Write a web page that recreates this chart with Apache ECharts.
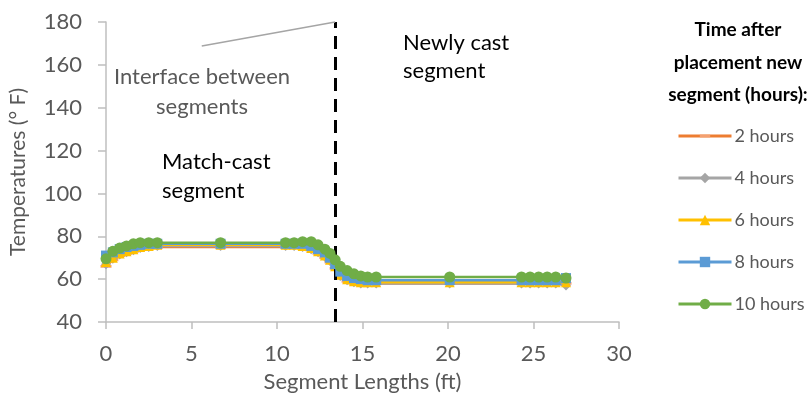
<!DOCTYPE html>
<html><head><meta charset="utf-8">
<script src="https://cdn.jsdelivr.net/npm/echarts@6/dist/echarts.min.js"></script>
<style>html,body{margin:0;padding:0;background:#fff}#c{width:809px;height:410px}</style>
</head><body><div id="c"></div>
<script>
// Segment positions (ft)
const positions = [0, 0.4, 0.8, 1.2, 1.6, 2.0, 2.5, 3.0, 6.7, 10.5, 11.0, 11.5, 12.0, 12.4, 12.8, 13.1, 13.4, 13.7, 14.1, 14.5, 14.9, 15.3, 15.8, 20.1, 24.3, 24.8, 25.3, 25.8, 26.3, 26.9];
const hours2  = [66, 69, 71, 72, 73, 74, 74.5, 75, 75, 75, 75, 74.5, 73.5, 72, 70, 68, 65, 61, 59, 58, 58, 58, 58, 58, 58, 58, 58, 58, 58, 58];
const hours4  = [67, 69.5, 71.5, 72.5, 73.5, 74.5, 75, 75.5, 75.5, 75.5, 75.5, 75, 74, 72.5, 70.5, 68.5, 65.5, 61.5, 59.5, 58.5, 58, 58, 58, 58, 58, 58, 58, 58, 58, 57];
const hours6  = [68, 70, 72, 73, 74, 75, 75.5, 76, 76, 76, 76, 75.5, 74.5, 73, 71, 69, 66, 62, 60, 59, 58.5, 58.5, 58.5, 58.5, 58.5, 58.5, 58.5, 58.5, 58.5, 58.5];
const hours8  = [71, 72.5, 74, 75, 75.5, 76, 76.5, 76.5, 76.5, 76.5, 76.5, 76.5, 75.5, 74, 72.5, 70, 67, 63.5, 61.5, 60.5, 60, 59.5, 59.5, 59.5, 59.5, 59.5, 59.5, 59.5, 59.5, 60.5];
const hours10 = [69.5, 73, 74.5, 75.5, 76.5, 77, 77, 77, 77, 77, 77, 77.5, 77.5, 76, 74, 72, 69, 66, 64, 62.5, 61.5, 61, 61, 61, 61, 61, 61, 61, 61, 60.5];
const seriesNames = ['2 hours', '4 hours', '6 hours', '8 hours', '10 hours'];
const xTicks = {min: 0, max: 30, interval: 5};
const yTicks = {min: 40, max: 180, interval: 20};
const interfaceX = 13.4;
const pointerFrom = [5.6, 168.8];

const values = [hours2, hours4, hours6, hours8, hours10];
const colors = ['#ED7D31', '#A5A5A5', '#FFC000', '#5B9BD5', '#70AD47'];
// dash marker: a 12x3 bar inside a 12x12 bounding box (zero-area subpath pads the box)
const symbols = ['path://M0,4.5L12,4.5L12,7.5L0,7.5Z M0,0L0,0.01L0.01,0.01Z M12,12L11.99,12L12,11.99Z', 'diamond', 'triangle', 'rect', 'circle'];
const symSizes = [11, 10, 10, 10, 11];
const FONT = 'Lato';
const TXT = '#595959';

const series = values.map((v, i) => ({
  name: seriesNames[i],
  type: 'line',
  data: positions.map((x, j) => [x, v[j]]),
  symbol: symbols[i],
  symbolSize: symSizes[i],
  showAllSymbol: true,
  itemStyle: {color: i === 0 ? '#F4A070' : colors[i], borderWidth: 0},
  lineStyle: {color: colors[i], width: 2.5},
  z: 2 + i,
  emphasis: {disabled: true}
}));
series[4].markLine = {
  silent: true, symbol: 'none', animation: false,
  label: {show: false},
  data: [
    {xAxis: interfaceX, lineStyle: {color: '#000', width: 3, type: [13, 8]}},
    [{coord: pointerFrom, lineStyle: {color: '#A5A5A5', width: 1.5, type: 'solid'}}, {coord: [interfaceX, yTicks.max]}]
  ]
};

const T = (x, y, s, opts) => ({type: 'text', x: x, y: y, silent: true,
  style: Object.assign({text: s, font: '22px ' + FONT, fill: '#000', align: 'left', verticalAlign: 'middle'}, opts || {})});

const chart = echarts.init(document.getElementById('c'), null, {renderer: 'canvas'});
chart.setOption({
  animation: false,
  textStyle: {fontFamily: FONT},
  grid: {left: 106, right: 190, top: 22, bottom: 88, containLabel: false},
  xAxis: {
    type: 'value', min: xTicks.min, max: xTicks.max, interval: xTicks.interval,
    name: 'Segment Lengths (ft)', nameLocation: 'middle', nameGap: 49,
    nameTextStyle: {fontSize: 22, color: TXT, fontFamily: FONT},
    axisLine: {show: true, lineStyle: {color: '#BFBFBF', width: 1.5}},
    axisTick: {show: true, length: 7, lineStyle: {color: '#BFBFBF', width: 1.5}},
    axisLabel: {fontSize: 22, color: TXT, margin: 21, fontFamily: FONT},
    splitLine: {show: false}
  },
  yAxis: {
    type: 'value', min: yTicks.min, max: yTicks.max, interval: yTicks.interval,
    name: 'Temperatures (° F)', nameLocation: 'middle', nameGap: 77, nameRotate: 90,
    nameTextStyle: {fontSize: 21, color: TXT, fontFamily: FONT},
    axisLine: {show: true, lineStyle: {color: '#BFBFBF', width: 1.5}},
    axisTick: {show: true, length: 8, lineStyle: {color: '#BFBFBF', width: 1.5}},
    axisLabel: {fontSize: 22, color: TXT, margin: 24, fontFamily: FONT},
    splitLine: {show: false}
  },
  legend: {
    orient: 'vertical', left: 672, top: 122, itemGap: 24, itemWidth: 53, itemHeight: 13,
    lineStyle: {width: 3},
    textStyle: {fontSize: 18, color: TXT, fontFamily: FONT, padding: [0, 0, 0, -2]},
    data: seriesNames, selectedMode: false
  },
  graphic: [
    T(738, 30, 'Time after', {font: 'bold 19px ' + FONT, align: 'center'}),
    T(738, 63, 'placement new', {font: 'bold 19px ' + FONT, align: 'center'}),
    T(738, 95, 'segment (hours):', {font: 'bold 19px ' + FONT, align: 'center'}),
    T(202, 77, 'Interface between', {fill: TXT, align: 'center'}),
    T(202, 107, 'segments', {fill: TXT, align: 'center'}),
    T(403, 43, 'Newly cast'),
    T(403, 71, 'segment'),
    T(162, 162, 'Match-cast'),
    T(162, 191, 'segment')
  ],
  series: series
});
</script></body></html>
